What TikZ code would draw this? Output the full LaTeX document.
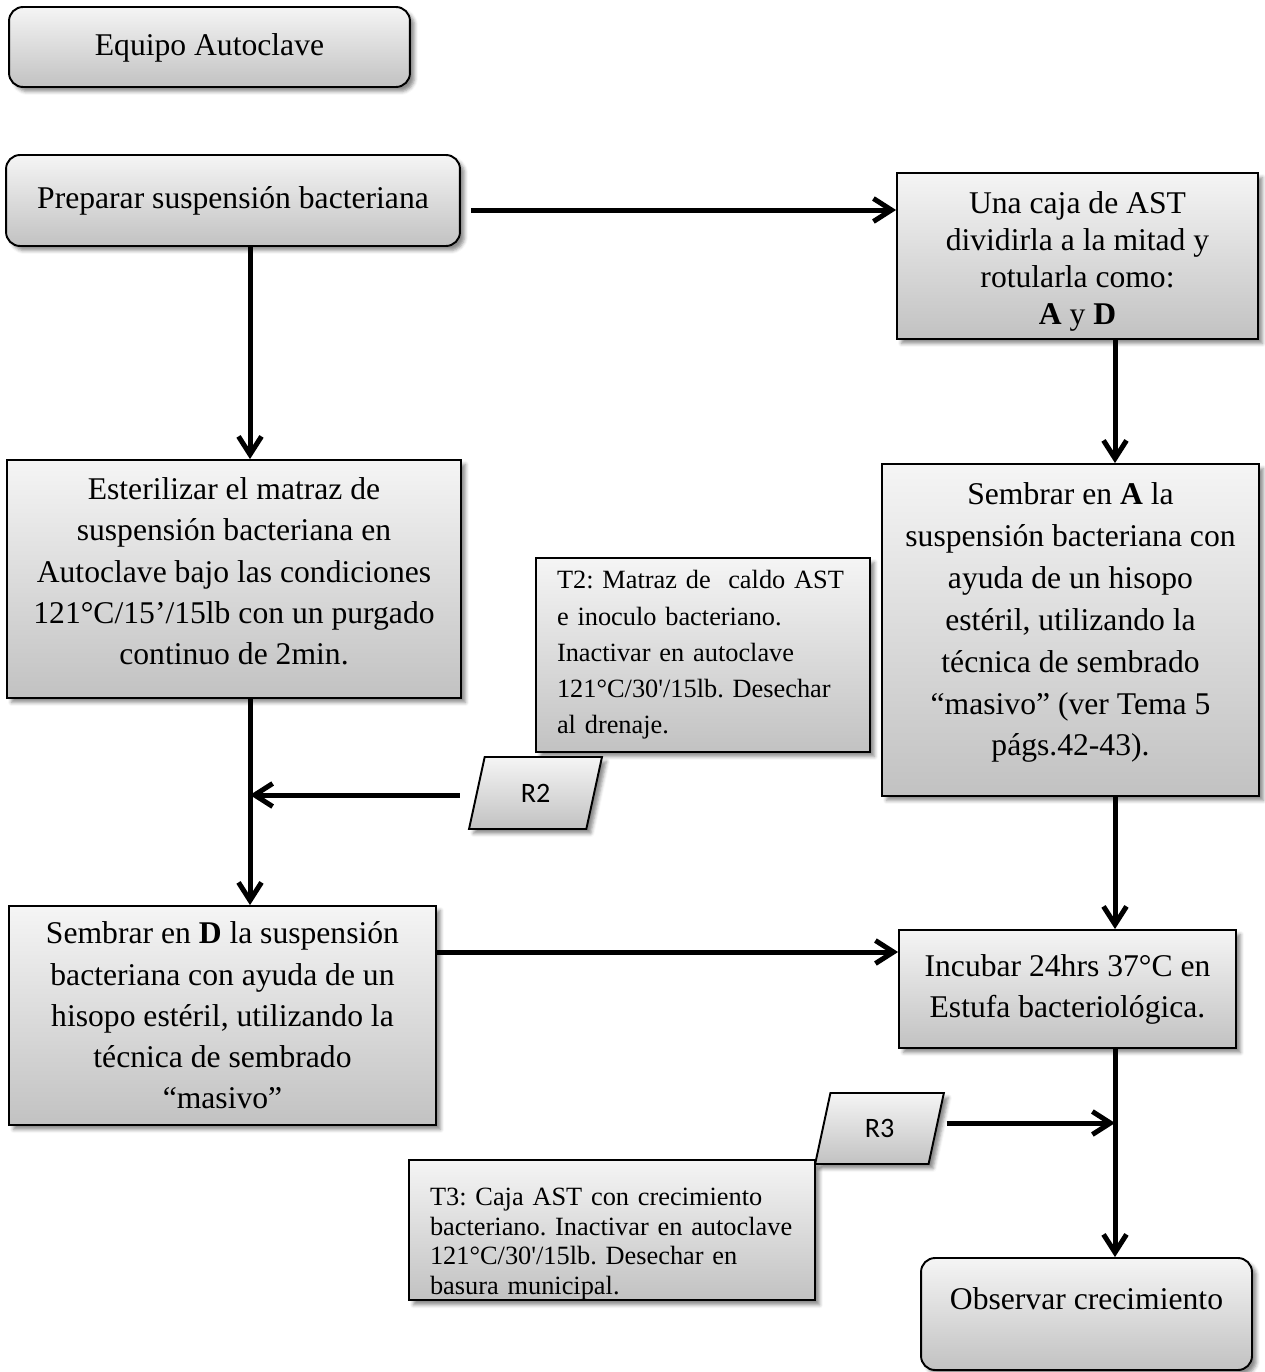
\documentclass[tikz,border=0pt]{standalone}
\usepackage{fontspec}
\setmainfont{Liberation Serif}
\newfontfamily\labelsans{Carlito}
\usetikzlibrary{arrows.meta,shapes.geometric,shadows.blur}
\frenchspacing
\hyphenpenalty=10000

\tikzset{
  boxfill/.style={draw=black, line width=1.1pt, top color=black!4, bottom color=black!24,
    blur shadow={shadow xshift=0.9mm, shadow yshift=-0.9mm, shadow blur radius=0.7mm, shadow opacity=45}},
  stepbox/.style={boxfill, rectangle, align=center, inner sep=0pt},
  roundbox/.style={stepbox, rounded corners=2.8mm},
  notebox/.style={boxfill, rectangle, align=left, inner xsep=4.2mm, inner ysep=0pt},
  datain/.style={boxfill, trapezium, trapezium left angle=76, trapezium right angle=104,
    trapezium stretches=true, inner sep=0pt, font=\labelsans\fontsize{16}{19}\selectfont},
  txt/.style={font=\fontsize{18}{#1}\selectfont},
  smalltxt/.style={font=\fontsize{15}{#1}\selectfont},
  arr/.style={line width=1mm, -{Straight Barb[length=3.6mm,width=4.6mm]}},
}

\begin{document}
\begin{tikzpicture}[x=0.02cm, y=-0.02cm]
\useasboundingbox (0,0) rectangle (1264,1372);

% columns and rows used by the connectors
\coordinate (colL) at (250,0);
\coordinate (colR) at (1115,0);
\coordinate (row1) at (0,210);
\coordinate (row2) at (0,952);
\coordinate (j2) at (250,795);
\coordinate (j3) at (1115,1123);

% boxes
\node[roundbox, txt=22pt, minimum width=80.2mm, minimum height=16mm, text height=14pt, text depth=3.9pt] (equipo) at (209.5,47) {Equipo Autoclave};

\node[roundbox, txt=22pt, minimum width=90.8mm, minimum height=18.2mm] (prep) at (233,200.5) {Preparar suspensión bacteriana};

\node[stepbox, txt=21pt, minimum width=72.2mm, minimum height=33.2mm] (caja) at (1077.5,256)
  {\rule{0pt}{19pt}Una caja de AST\\dividirla a la mitad y\\rotularla como:\\\textbf{A} y \textbf{D}};

\node[stepbox, txt=23.5pt, minimum width=90.8mm, minimum height=47.6mm] (ester) at (234,579)
  {Esterilizar el matraz de\\suspensión bacteriana en\\Autoclave bajo las condiciones\\121°C/15’/15lb con un purgado\\continuo de 2min.\rule[-9pt]{0pt}{0pt}};

\node[stepbox, txt=23.8pt, minimum width=75.4mm, minimum height=66.4mm] (semA) at (1070.5,630)
  {Sembrar en \textbf{A} la\\suspensión bacteriana con\\ayuda de un hisopo\\estéril, utilizando la\\técnica de sembrado\\“masivo” (ver Tema 5\\págs.42-43).\rule[-12pt]{0pt}{0pt}};

\node[notebox, smalltxt=20.6pt, text width=58.4mm, minimum height=38.8mm] (t2) at (703,655)
  {T2: Matraz de~\ caldo AST\\e inoculo bacteriano.\\Inactivar en autoclave\\121°C/30\textquotesingle/15lb. Desechar\\al drenaje.};

\node[datain, minimum width=26.6mm, minimum height=14.4mm] (r2) at (535.5,793) {R2};

\node[stepbox, txt=23.5pt, minimum width=85.4mm, minimum height=43.8mm] (semD) at (222.5,1015.5)
  {Sembrar en \textbf{D} la suspensión\\bacteriana con ayuda de un\\hisopo estéril, utilizando la\\técnica de sembrado\\“masivo”};

\node[stepbox, txt=23.3pt, minimum width=67.4mm, minimum height=23.6mm] (incub) at (1067.5,989)
  {Incubar 24hrs 37°C en\\Estufa bacteriológica.};

\node[notebox, smalltxt=17pt, text width=72.8mm, minimum height=27.2mm] (t3) at (612,1230)
  {\rule{0pt}{26pt}T3: Caja AST con crecimiento\\bacteriano. Inactivar en autoclave\\121°C/30\textquotesingle/15lb. Desechar en\\basura municipal.};

\node[datain, minimum width=25.8mm, minimum height=14.2mm] (r3) at (879.5,1128.5) {R3};

\node[roundbox, txt=22pt, minimum width=66.2mm, minimum height=22.4mm, text height=12.3pt, text depth=17pt] (obs) at (1086.5,1314) {Observar crecimiento};

% connectors
\draw[arr, shorten <=2mm] (prep.east |- row1) -- (caja.west |- row1);
\draw[arr] (prep.south -| colL) -- (ester.north -| colL);
\draw[arr] (ester.south -| colL) -- (semD.north -| colL);
\draw[arr, shorten <=3.2mm] (r2.west |- j2) -- (j2);
\draw[arr] (semD.east |- row2) -- (incub.west |- row2);
\draw[arr] (caja.south -| colR) -- (semA.north -| colR);
\draw[arr] (semA.south -| colR) -- (incub.north -| colR);
\draw[arr] (incub.south -| colR) -- (obs.north -| colR);
\draw[arr, shorten <=1.9mm] (r3.east |- j3) -- (j3);
\end{tikzpicture}
\end{document}
